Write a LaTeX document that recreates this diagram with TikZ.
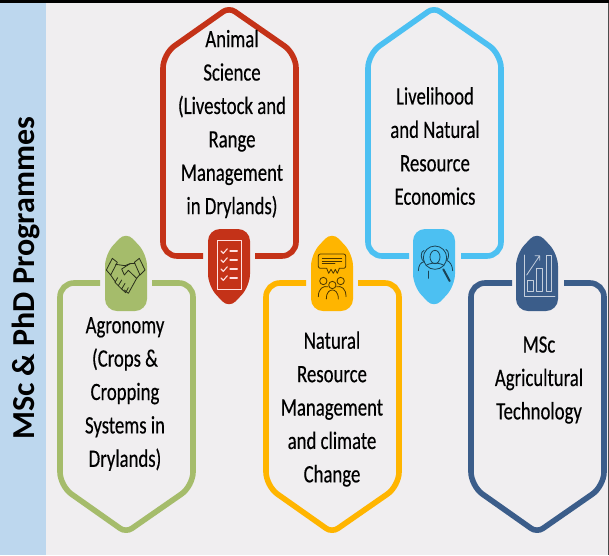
\documentclass[tikz,border=0pt]{standalone}
\usepackage{fontspec}
\setmainfont{Carlito}[FakeStretch=0.75,FakeBold=0.35]
\newfontfamily\titlefont{Carlito}
\definecolor{bgc}{HTML}{F0EEF0}
\definecolor{bandc}{HTML}{BDD7EE}
\definecolor{redc}{HTML}{C43218}
\definecolor{greenc}{HTML}{A5BC6B}
\definecolor{yellowc}{HTML}{FFB500}
\definecolor{skyc}{HTML}{4CC0F2}
\definecolor{navyc}{HTML}{3B5D8A}
\tikzset{
  frame/.style={line width=5.6pt,rounded corners=14pt},
  badge/.style={rounded corners=12pt},
  label/.style={align=center,text=black,inner sep=0pt,font=\fontsize{25}{33.4}\selectfont},
  ink/.style={line width=.8pt,line join=round,line cap=round},
  zoomed/.style={x=.33333pt,y=-.33333pt}
}
% #1 colour, #2 left, #3 right, #4 apex x, #5 gap left, #6 gap right
\newcommand{\upframe}[6]{\draw[frame,#1] (#5,256) -- (#2,256) -- (#2,54) [rounded corners=7pt] -- (#4,7.5) [rounded corners=14pt] -- (#3,54) -- (#3,256) -- (#6,256);
  \fill[badge,#1] (#4-21,229) -- (#4+21,229) -- (#4+21,286) [rounded corners=10pt] -- (#4,308.5) [rounded corners=12pt] -- (#4-21,286) -- cycle;}
\newcommand{\downframe}[6]{\draw[frame,#1] (#5,283) -- (#2,283) -- (#2,486) [rounded corners=7pt] -- (#4,532.5) [rounded corners=14pt] -- (#3,486) -- (#3,283) -- (#6,283);
  \fill[badge,#1] (#4-21,311) -- (#4+21,311) -- (#4+21,254) [rounded corners=10pt] -- (#4,231.5) [rounded corners=12pt] -- (#4-21,254) -- cycle;}
\begin{document}
\begin{tikzpicture}[x=1pt,y=-1pt]
\useasboundingbox (0,0) rectangle (609,555);
\fill[bgc] (0,0) rectangle (609,555);
\fill[bandc] (0,3) rectangle (46,555);
\fill[black] (0,0) rectangle (609,3);
\fill[black!70] (608,3) rectangle (609,555);

\upframe{redc}{163}{296}{229}{203}{255}
\upframe{skyc}{368}{501}{434}{409}{461}
\downframe{greenc}{60}{193}{126}{100}{152}
\downframe{yellowc}{266}{399}{332}{306}{358}
\downframe{navyc}{471}{604}{537}{512}{564}

\node[rotate=90,inner sep=0pt,font=\titlefont\bfseries\fontsize{32}{34}\selectfont] (title) at (26,278.5) {MSc \& PhD Programmes};
\node[label] (animal) at (232,124) {Animal\\Science\\(Livestock and\\Range\\Management\\in Drylands)};
\node[label] (livelihood) at (435,146) {Livelihood\\and Natural\\Resource\\Economics};
\node[label] (agronomy) at (125,394) {Agronomy\\(Crops \&\\Cropping\\Systems in\\Drylands)};
\node[label] (nrm) at (332,409) {Natural\\Resource\\Management\\and climate\\Change};
\node[label] (msc) at (539,380) {MSc\\Agricultural\\Technology};

% checklist icon
\begin{scope}[shift={(95,225)},zoomed,ink,draw=red!15!white,color=red!12!white]
\draw (367,47) rectangle (440,192);
\foreach \yy in {78,105,132,159}{
  \draw[line width=1.1pt] (378,\yy) -- (385,\yy+7) -- (397,\yy-7);
  \draw[line width=1.1pt] (405,\yy) -- (427,\yy);
}
\end{scope}

% handshake icon
\begin{scope}[shift={(95,225)},zoomed,ink,draw=black!75!greenc]
\draw (34,135) -- (52,100) -- (67,112) -- (47,150) -- cycle;
\draw (133,100) -- (150,135) -- (135,150) -- (118,112) -- cycle;
\draw (62,118) -- (90,122) -- (105,116) -- (120,115);
\draw (105,116) -- (80,132) -- (88,150) -- (100,136) -- (125,160) -- (135,148);
\draw (125,160) -- (100,205) -- (88,195);
\draw (47,150) -- (62,172);
\draw (68,158) -- (60,172) -- (70,182) -- (80,165);
\draw (70,182) -- (80,192) -- (90,175);
\draw (80,192) -- (92,203) -- (100,188);
\end{scope}

% audience icon
\begin{scope}[shift={(300,225)},zoomed,ink,draw=black!70!yellowc]
\draw[rounded corners=2pt] (80,130) -- (55,130) -- (55,87) -- (137,87) -- (137,130) -- (118,130);
\draw (80,130) -- (86,145) -- (93,133) -- (100,145) -- (106,133) -- (112,145) -- (118,130);
\draw (67,100) -- (125,100) (67,108) -- (125,108) (67,116) -- (105,116);
\draw (70,168) circle[radius=11];
\draw (122,168) circle[radius=11];
\draw (97,180) circle[radius=11];
\draw (55,215) .. controls (55,190) and (70,182) .. (84,185);
\draw (138,215) .. controls (138,190) and (124,182) .. (110,185);
\draw (79,222) .. controls (79,200) and (90,195) .. (97,195) .. controls (104,195) and (115,200) .. (115,222);
\end{scope}

% search icon
\begin{scope}[shift={(300,225)},zoomed,ink,draw=black!65!skyc]
\draw (405,98) circle[radius=35];
\draw (405,96) ellipse[x radius=15,y radius=20];
\draw (378,122) .. controls (388,112) and (422,112) .. (432,122);
\draw[line width=2pt] (430,133) -- (449,168);
\draw (372,76) .. controls (360,80) and (362,105) .. (372,110);
\draw (438,73) .. controls (448,78) and (448,100) .. (440,106);
\draw (355,137) .. controls (356,120) and (362,112) .. (373,110);
\draw (458,137) .. controls (457,120) and (450,110) .. (440,106);
\draw (386,138) -- (386,160);
\end{scope}

% chart icon
\begin{scope}[shift={(505,225)},zoomed,ink,draw=white!70!navyc]
\draw (57,90) -- (57,215) -- (150,215);
\draw (67,165) rectangle (84,200);
\draw (95,130) rectangle (112,200);
\draw (123,90) rectangle (140,200);
\draw (65,150) -- (104,92) (90,92) -- (104,92) -- (104,106);
\end{scope}
\end{tikzpicture}
\end{document}
